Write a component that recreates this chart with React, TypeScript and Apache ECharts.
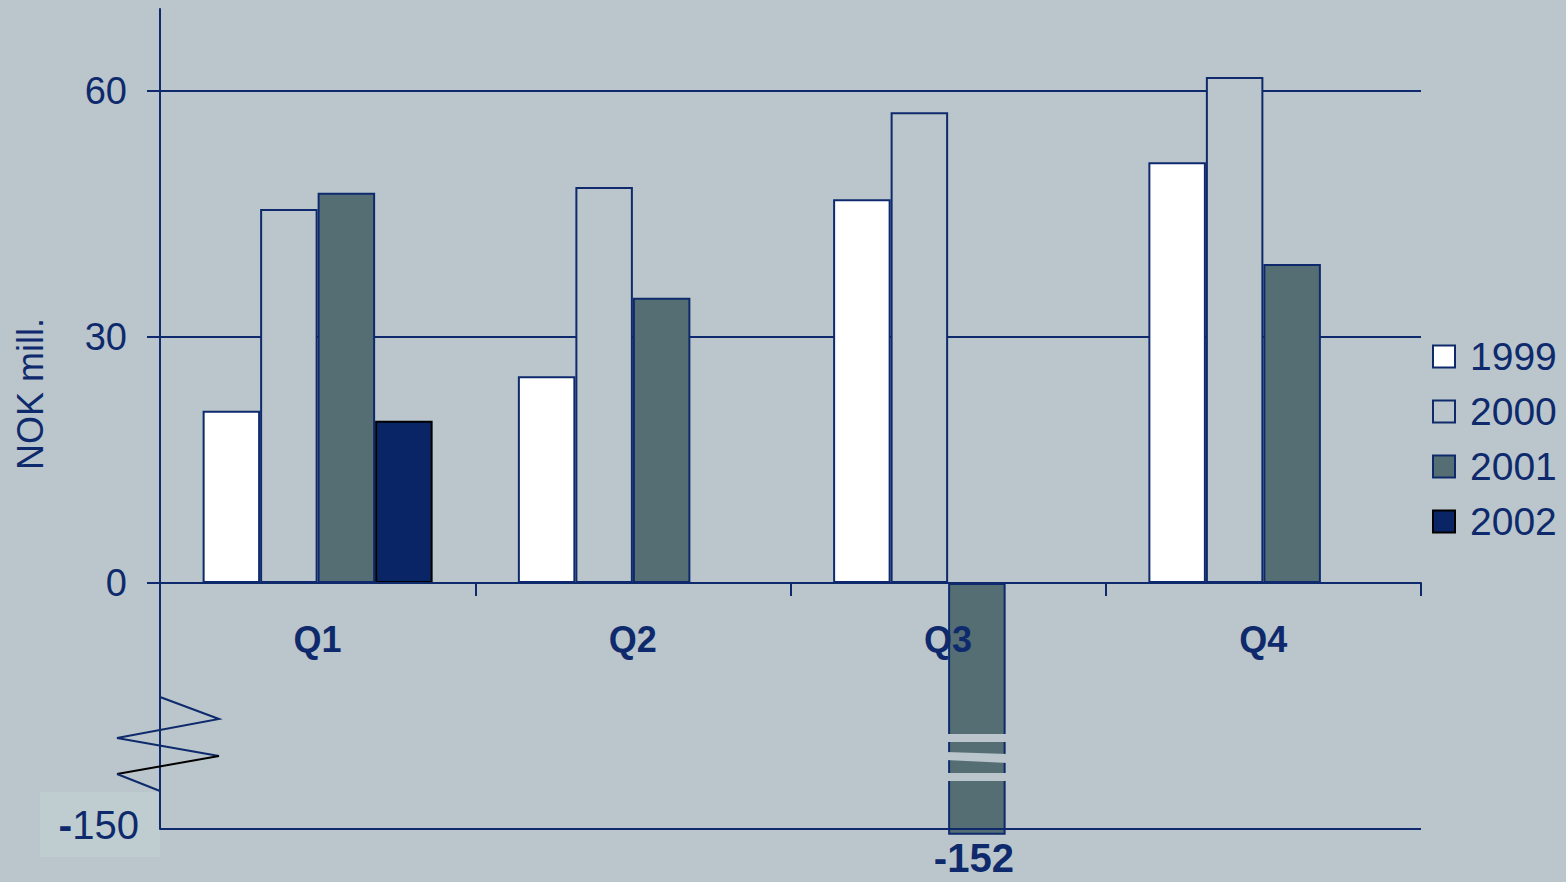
import React, { useEffect, useRef } from "react";
import * as echarts from "echarts";

const categories = ["Q1", "Q2", "Q3", "Q4"];
const years = ["1999", "2000", "2001", "2002"];
const v1999 = [21.0, 25.2, 46.8, 51.3];
const v2000 = [45.6, 48.3, 57.4, 61.7];
const v2001 = [47.6, 34.8, -152, 38.9];
const v2002: (number | null)[] = [19.8, null, null, null];
const yTicks = [0, 30, 60];
const breakValue = -150; // real value shown at the broken bottom line
const breakDisplay = -30; // where that value sits on the drawn scale

const BG = "#BAC6CB";
const NAVY = "#0E2A6D";
const FONT = "'Liberation Sans', Arial, sans-serif";

const fills = ["#FFFFFF", BG, "#546E74", "#0A2565"];
const borders = [NAVY, NAVY, NAVY, "#000000"];

const toDisplay = (v: number) => (v >= 0 ? v : breakDisplay + (v - breakValue) * 0.35);

const seriesValues = [v1999, v2000, v2001, v2002];

export default function App() {
  const ref = useRef<HTMLDivElement>(null);
  useEffect(() => {
    if (!ref.current) return;
    const chart = echarts.init(ref.current, null, { renderer: "svg" });
    const series: any[] = seriesValues.map((vals, si) => ({
      name: years[si],
      type: "bar",
      barWidth: 57.5,
      barGap: "0%",
      clip: false,
      z: 2,
      itemStyle: { color: fills[si], borderColor: borders[si], borderWidth: 2 },
      data: vals.map((v) =>
        v === null
          ? "-"
          : v < 0
          ? {
              value: toDisplay(v),
              label: {
                show: true,
                position: "bottom",
                distance: 3,
                offset: [-3, 0],
                formatter: String(v),
                fontFamily: FONT,
                fontWeight: "bold",
                fontSize: 40,
                color: NAVY,
              },
            }
          : v
      ),
    }));
    series[0].markLine = {
      silent: true,
      symbol: "none",
      label: { show: false },
      lineStyle: { color: NAVY, width: 2, type: "solid" },
      data: [{ yAxis: breakDisplay }],
    };
    chart.setOption({
      animation: false,
      backgroundColor: BG,
      textStyle: { fontFamily: FONT },
      grid: {
        left: 160,
        right: 145,
        top: 9,
        bottom: 53,
        containLabel: false,
        outerBoundsMode: "none",
      },
      legend: {
        orient: "vertical",
        left: 1432,
        top: 337,
        padding: 0,
        itemGap: 16,
        itemWidth: 22,
        itemHeight: 22,
        icon: "rect",
        data: years,
        textStyle: { fontFamily: FONT, fontSize: 39, color: NAVY, padding: [0, 0, 0, 10] },
      },
      xAxis: {
        type: "category",
        data: categories,
        z: 5,
        position: "bottom",
        offset: 0,
        axisLine: { onZero: false, lineStyle: { color: NAVY, width: 2 } },
        axisTick: { show: true, length: 13, lineStyle: { color: NAVY, width: 2 } },
        axisLabel: {
          margin: 38,
          fontFamily: FONT,
          fontSize: 36,
          fontWeight: "bold",
          color: NAVY,
        },
        splitLine: { show: false },
      },
      yAxis: {
        type: "value",
        min: breakDisplay,
        max: 70,
        interval: 30,
        axisLine: { show: true, lineStyle: { color: NAVY, width: 2 } },
        axisTick: { show: true, length: 13, customValues: yTicks, lineStyle: { color: NAVY, width: 2 } },
        axisLabel: {
          customValues: yTicks,
          margin: 33,
          fontFamily: FONT,
          fontSize: 38,
          color: NAVY,
        },
        splitLine: { show: true, lineStyle: { color: NAVY, width: 2 } },
      },
      series,
    });

    const yPix = (v: number) => chart.convertToPixel({ yAxisIndex: 0 }, v) as number;
    const xPix = (c: string) => chart.convertToPixel({ xAxisIndex: 0 }, c) as number;
    const y0 = yPix(0);
    const yBreak = yPix(breakDisplay);
    const ax = 160;
    const barCx = xPix("Q3") + 57.5 * 0.5;
    const bl = barCx - 31;
    const br = barCx + 31;

    chart.setOption({
      xAxis: { offset: -(yBreak - y0) },
      graphic: [
        {
          type: "rect",
          z: 0,
          shape: { x: 40, y: yBreak - 37, width: ax - 40, height: 65 },
          style: { fill: "#BFCDD0" },
        },
        {
          type: "text",
          z: 10,
          x: 139,
          y: yBreak - 4,
          style: {
            text: "{m|-}{n|150}",
            align: "right",
            verticalAlign: "middle",
            rich: {
              m: { fontFamily: FONT, fontSize: 41, fontWeight: "bold", fill: NAVY },
              n: { fontFamily: FONT, fontSize: 40, fill: NAVY },
            },
          },
        },
        {
          type: "text",
          z: 10,
          x: 30,
          y: 394,
          rotation: Math.PI / 2,
          style: {
            text: "NOK mill.",
            align: "center",
            verticalAlign: "middle",
            fontFamily: FONT,
            fontSize: 36,
            fill: NAVY,
          },
        },
        {
          type: "polyline",
          z: 10,
          shape: {
            points: [
              [ax, y0 + 114],
              [ax + 59, y0 + 136],
              [ax - 43, y0 + 155],
              [ax + 59, y0 + 173],
            ],
          },
          style: { stroke: NAVY, lineWidth: 2, fill: null },
        },
        {
          type: "line",
          z: 10,
          shape: { x1: ax + 59, y1: y0 + 173, x2: ax - 43, y2: y0 + 191 },
          style: { stroke: "#000000", lineWidth: 2 },
        },
        {
          type: "line",
          z: 10,
          shape: { x1: ax - 43, y1: y0 + 191, x2: ax, y2: y0 + 208 },
          style: { stroke: NAVY, lineWidth: 2 },
        },
        {
          type: "polygon",
          z: 20,
          shape: { points: [[bl, y0 + 151], [br, y0 + 151], [br, y0 + 159], [bl, y0 + 159]] },
          style: { fill: BG },
        },
        {
          type: "polygon",
          z: 20,
          shape: { points: [[bl, y0 + 169], [br, y0 + 171], [br, y0 + 180], [bl, y0 + 177]] },
          style: { fill: BG },
        },
        {
          type: "polygon",
          z: 20,
          shape: { points: [[bl, y0 + 190], [br, y0 + 190], [br, y0 + 198], [bl, y0 + 198]] },
          style: { fill: BG },
        },
      ],
    });

    return () => chart.dispose();
  }, []);
  return (
    <div
      ref={ref}
      style={{ position: "absolute", left: 0, top: 0, width: 1566, height: 882 }}
    />
  );
}
